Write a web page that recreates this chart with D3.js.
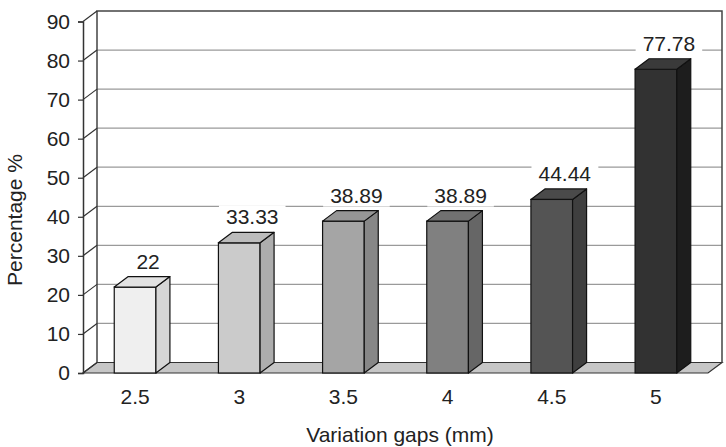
<!DOCTYPE html>
<meta charset="utf-8">
<script src="https://d3js.org/d3.v7.min.js"></script>
<style>
  body { margin: 0; background: #fff; }
  text { font-family: "Liberation Sans", Arial, sans-serif; fill: #222; }
</style>
<div id="chart"></div>
<script>
// data
var gaps = ["2.5", "3", "3.5", "4", "4.5", "5"];
var percents = [22, 33.33, 38.89, 38.89, 44.44, 77.78];
var valueLabels = ["22", "33.33", "38.89", "38.89", "44.44", "77.78"];
var yTicks = [0, 10, 20, 30, 40, 50, 60, 70, 80, 90];

// shades for each bar: front, side, top
var fronts = ["#efefef", "#cbcbcb", "#a5a5a5", "#808080", "#545454", "#323232"];
var sides  = ["#d6d6d6", "#adadad", "#878787", "#666666", "#3f3f3f", "#1d1d1d"];
var tops   = ["#e2e2e2", "#bcbcbc", "#969696", "#717171", "#4a4a4a", "#3a3a3a"];

var width = 726, height = 447;
var fontSize = "21px";
var dx = 14, dy = 10.5; // depth offset of the 3d box

var svg = d3.select("#chart").append("svg")
    .attr("width", width)
    .attr("height", height);

var x = d3.scaleBand()
    .domain(gaps)
    .range([83, 708])
    .paddingInner(0.6)
    .paddingOuter(0.3);

var y = d3.scaleLinear()
    .domain([0, 90])
    .range([373, 21.5]);

var y0 = y(0), yTop = y(90);
var left = x.range()[0], right = x.range()[1];

// back wall
svg.append("rect")
    .attr("x", left + dx)
    .attr("y", yTop - dy)
    .attr("width", right - left)
    .attr("height", y0 - yTop)
    .attr("fill", "#fff");

// gridlines on back wall
svg.append("g").selectAll("line")
    .data(yTicks.slice(1, -1))
    .enter().append("line")
    .attr("x1", left + dx)
    .attr("x2", right + dx)
    .attr("y1", function (d) { return y(d) - dy; })
    .attr("y2", function (d) { return y(d) - dy; })
    .attr("stroke", "#9a9a9a")
    .attr("stroke-width", 1.2);

// floor
svg.append("path")
    .attr("d", "M" + left + "," + y0 + "L" + right + "," + y0 +
        "L" + (right + dx) + "," + (y0 - dy) + "L" + (left + dx) + "," + (y0 - dy) + "Z")
    .attr("fill", "#c6c6c6")
    .attr("stroke", "#333")
    .attr("stroke-width", 1.2);

// back wall outline (top, right, left-back)
svg.append("path")
    .attr("d", "M" + (left + dx) + "," + (y0 - dy) + "V" + (yTop - dy) +
        "H" + (right + dx) + "V" + (y0 - dy))
    .attr("fill", "none")
    .attr("stroke", "#444")
    .attr("stroke-width", 1.5);

// side wall diagonals at each tick
svg.append("g").selectAll("line")
    .data(yTicks)
    .enter().append("line")
    .attr("x1", left)
    .attr("x2", left + dx)
    .attr("y1", function (d) { return y(d); })
    .attr("y2", function (d) { return y(d) - dy; })
    .attr("stroke", "#333")
    .attr("stroke-width", 1.2);

// front y axis
var yAxis = d3.axisLeft(y).tickValues(yTicks).tickSize(5).tickPadding(8);
var gy = svg.append("g")
    .attr("transform", "translate(" + left + ",0)")
    .call(yAxis);
gy.select(".domain").attr("stroke", "#333").attr("stroke-width", 1.5);
gy.selectAll(".tick line").attr("stroke", "#333").attr("stroke-width", 1.2);
gy.selectAll(".tick text").style("font-size", fontSize).attr("fill", "#222");

// bars
var bars = svg.append("g").selectAll("g")
    .data(percents)
    .enter().append("g");

bars.append("rect")
    .attr("x", function (d, i) { return x(gaps[i]); })
    .attr("y", function (d) { return y(d); })
    .attr("width", x.bandwidth())
    .attr("height", function (d) { return y0 - y(d); })
    .attr("fill", function (d, i) { return fronts[i]; })
    .attr("stroke", "#111")
    .attr("stroke-width", 1.2);

bars.append("path")
    .attr("d", function (d, i) {
        var xr = x(gaps[i]) + x.bandwidth();
        return "M" + xr + "," + y(d) + "L" + (xr + dx) + "," + (y(d) - dy) +
            "L" + (xr + dx) + "," + (y0 - dy) + "L" + xr + "," + y0 + "Z";
    })
    .attr("fill", function (d, i) { return sides[i]; })
    .attr("stroke", "#111")
    .attr("stroke-width", 1.2)
    .attr("stroke-linejoin", "round");

bars.append("path")
    .attr("d", function (d, i) {
        var xl = x(gaps[i]), xr = xl + x.bandwidth();
        return "M" + xl + "," + y(d) + "L" + (xl + dx) + "," + (y(d) - dy) +
            "L" + (xr + dx) + "," + (y(d) - dy) + "L" + xr + "," + y(d) + "Z";
    })
    .attr("fill", function (d, i) { return tops[i]; })
    .attr("stroke", "#111")
    .attr("stroke-width", 1.2)
    .attr("stroke-linejoin", "round");

// value labels with white boxes
var labels = svg.append("g").selectAll("g")
    .data(percents)
    .enter().append("g")
    .attr("transform", function (d, i) {
        return "translate(" + (x(gaps[i]) + x.bandwidth() / 2 + 13) + "," + (y(d) - dy - 8) + ")";
    });

labels.append("text")
    .attr("text-anchor", "middle")
    .style("font-size", fontSize)
    .text(function (d, i) { return valueLabels[i]; });

labels.insert("rect", "text")
    .attr("fill", "#fff")
    .each(function () {
        var bb = this.parentNode.querySelector("text").getBBox();
        d3.select(this)
            .attr("x", bb.x - 7)
            .attr("y", bb.y)
            .attr("width", bb.width + 14)
            .attr("height", bb.height);
    });

// category labels
svg.append("g").selectAll("text")
    .data(gaps)
    .enter().append("text")
    .attr("x", function (d) { return x(d) + x.bandwidth() / 2; })
    .attr("y", 404)
    .attr("text-anchor", "middle")
    .style("font-size", fontSize)
    .text(function (d) { return d; });

// axis titles
svg.append("text")
    .attr("x", 400)
    .attr("y", 442)
    .attr("text-anchor", "middle")
    .style("font-size", fontSize)
    .text("Variation gaps (mm)");

svg.append("text")
    .attr("transform", "translate(22,220) rotate(-90)")
    .attr("text-anchor", "middle")
    .style("font-size", fontSize)
    .text("Percentage %");
</script>
